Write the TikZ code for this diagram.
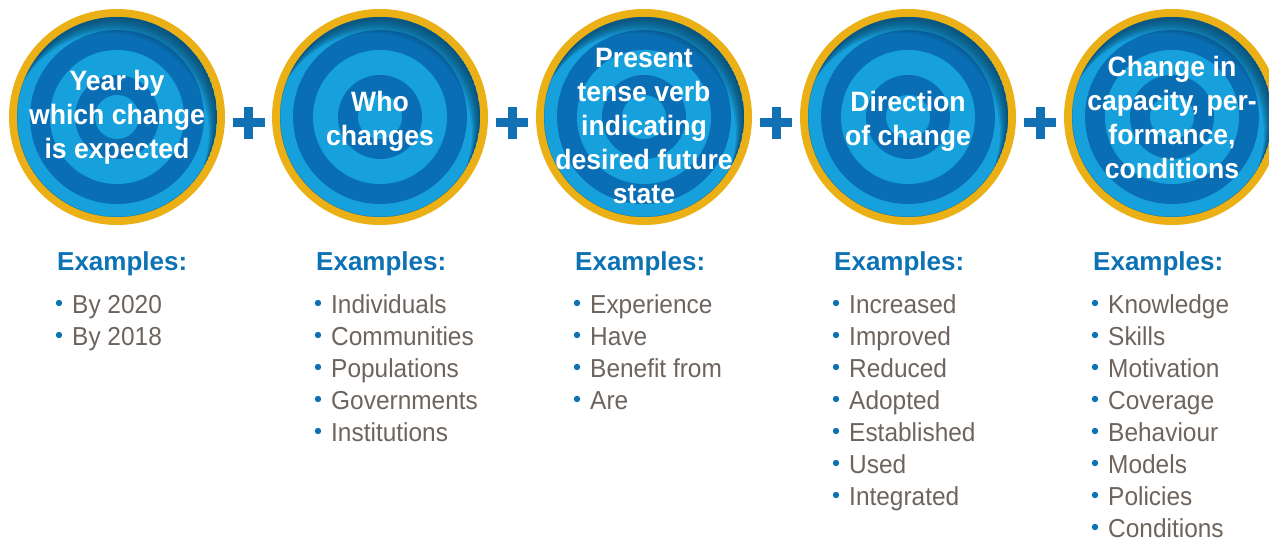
\documentclass[tikz,border=0pt]{standalone}
\usepackage{fontspec}
\setmainfont{Liberation Sans}
\newfontfamily\circfont{Liberation Sans Bold}[FakeStretch=0.95]
\newfontfamily\headfont{Liberation Sans Bold}
\newfontfamily\itemfont{Liberation Sans}[FakeStretch=0.94]
\usepackage{tikz}
\usetikzlibrary{calc}

\definecolor{ringgold}{RGB}{236,176,23}
\definecolor{ringlight}{RGB}{22,161,220}
\definecolor{ringdark}{RGB}{10,110,180}
\definecolor{ringshade}{RGB}{8,58,92}
\definecolor{plusblue}{RGB}{18,112,181}
\definecolor{headblue}{RGB}{12,114,180}
\definecolor{itemgrey}{RGB}{110,100,94}

\tikzset{
  circtext/.style={text=white, align=center, inner sep=0pt,
    font=\circfont\fontsize{28}{34}\selectfont},
  exhead/.style={text=headblue, anchor=base west, inner sep=0pt,
    font=\headfont\fontsize{26}{32}\selectfont},
  exitem/.style={text=itemgrey, anchor=base west, inner sep=0pt,
    font=\itemfont\fontsize{26}{32}\selectfont},
  plusbar/.style={fill=plusblue},
}

\begin{document}
\begin{tikzpicture}[x=1pt, y=-1pt]

    \useasboundingbox (0,0) rectangle (1269,540);

    \coordinate (C1) at (117,117);
    \coordinate (C2) at (380,117);
    \coordinate (C3) at (644,117);
    \coordinate (C4) at (908,117);
    \coordinate (C5) at (1172,117);

    % target rings
    \foreach \c in {C1,C2,C3,C4,C5} {
      \fill[ringgold] (\c) circle (108pt);
      \fill[ringlight] (\c) circle (100pt);
      \fill[ringdark] (\c) circle (87pt);
      \fill[ringlight] (\c) circle (67pt);
      \fill[ringdark] (\c) circle (42pt);
      \fill[ringlight] (\c) circle (22pt);
      \begin{scope}
        \clip (\c) circle (100pt);
        \foreach \k in {1,...,9}
          \fill[ringshade, opacity=0.13, even odd rule]
            (\c) circle (100pt) ($(\c)+(-0.9*\k,1.8*\k)$) circle (100pt);
      \end{scope}
    }

    \node[circtext] (T1) at (117,117) {Year by\\which change\\is expected};
    \node[circtext] (T2) at (380,121) {Who\\changes};
    \node[circtext] (T3) at (644,126) {Present\\tense verb\\indicating\\desired future\\state};
    \node[circtext] (T4) at (908,121) {Direction\\of change};
    \node[circtext] (T5) at (1172,117) {Change in\\capacity, per-\\formance,\\conditions};

    % plus signs
    \foreach \p in {248.5,512,776,1040} {
      \fill[plusbar] (\p-16,118.5) rectangle (\p+16,127.5);
      \fill[plusbar] (\p-4.5,107) rectangle (\p+4.5,139);
    }

    % examples
    \node[exhead] (H1) at (57,270) {Examples:};
    \node[exhead] (H2) at (316,270) {Examples:};
    \node[exhead] (H3) at (575,270) {Examples:};
    \node[exhead] (H4) at (834,270) {Examples:};
    \node[exhead] (H5) at (1093,270) {Examples:};

    \foreach \t [count=\i] in {By 2020, By 2018} {
      \node[exitem] (E1-\i) at (72,281+32*\i) {\t};
      \fill[headblue] ($(E1-\i.base west)+(-13,-10)$) circle (3.2pt);
    }
    \foreach \t [count=\i] in {Individuals, Communities, Populations, Governments, Institutions} {
      \node[exitem] (E2-\i) at (331,281+32*\i) {\t};
      \fill[headblue] ($(E2-\i.base west)+(-13,-10)$) circle (3.2pt);
    }
    \foreach \t [count=\i] in {Experience, Have, Benefit from, Are} {
      \node[exitem] (E3-\i) at (590,281+32*\i) {\t};
      \fill[headblue] ($(E3-\i.base west)+(-13,-10)$) circle (3.2pt);
    }
    \foreach \t [count=\i] in {Increased, Improved, Reduced, Adopted, Established, Used, Integrated} {
      \node[exitem] (E4-\i) at (849,281+32*\i) {\t};
      \fill[headblue] ($(E4-\i.base west)+(-13,-10)$) circle (3.2pt);
    }
    \foreach \t [count=\i] in {Knowledge, Skills, Motivation, Coverage, Behaviour, Models, Policies, Conditions} {
      \node[exitem] (E5-\i) at (1108,281+32*\i) {\t};
      \fill[headblue] ($(E5-\i.base west)+(-13,-10)$) circle (3.2pt);
    }

\end{tikzpicture}
\end{document}
